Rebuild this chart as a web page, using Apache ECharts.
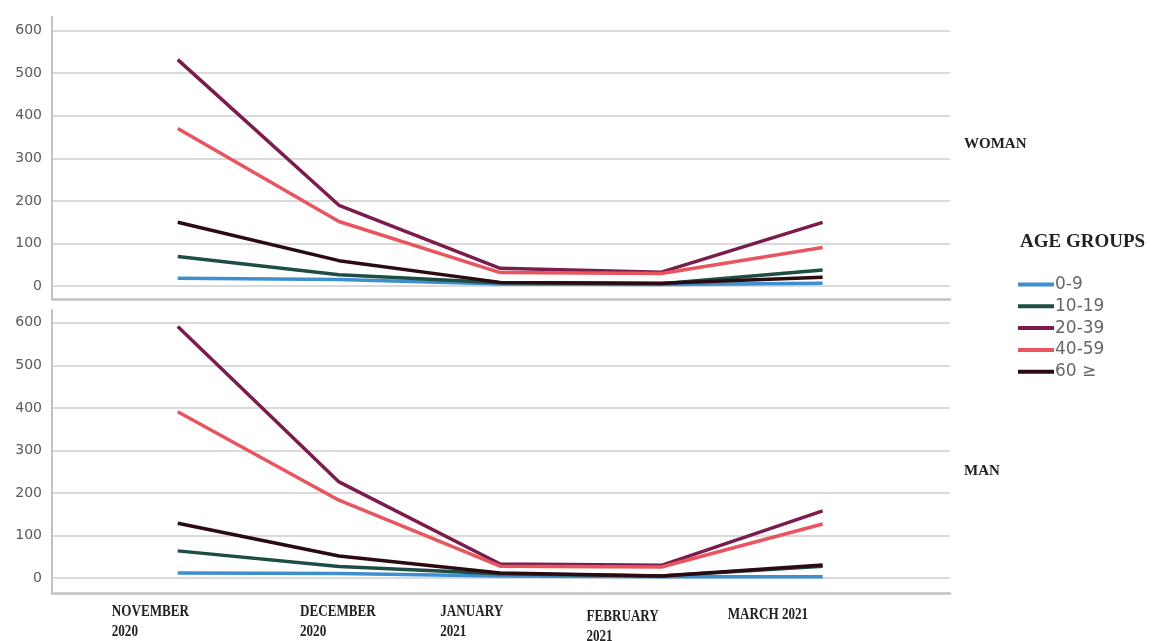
<!DOCTYPE html>
<html>
<head>
<meta charset="utf-8">
<script src="https://cdn.jsdelivr.net/npm/echarts@6/dist/echarts.min.js"></script>
<style>
  html, body { margin: 0; padding: 0; background: #fff; }
  #chart { width: 1157px; height: 641px; }
</style>
</head>
<body>
<div id="chart"></div>
<script>
// Months on the horizontal axis
const months = ['NOVEMBER\n2020', 'DECEMBER\n2020', 'JANUARY\n2021', 'FEBRUARY\n2021', 'MARCH 2021'];
const ageGroups = ['0-9', '10-19', '20-39', '40-59', '60 ≥'];
const yTicks = [0, 100, 200, 300, 400, 500, 600];

// Monthly cases, women
const woman0to9   = [19, 16, 5, 4, 7];
const woman10to19 = [70, 27, 8, 6, 38];
const woman20to39 = [532, 190, 42, 33, 150];
const woman40to59 = [370, 152, 32, 30, 91];
const woman60plus = [150, 60, 9, 7, 21];

// Monthly cases, men
const man0to9   = [12, 11, 5, 3, 3];
const man10to19 = [64, 27, 10, 5, 28];
const man20to39 = [591, 226, 33, 30, 158];
const man40to59 = [391, 183, 28, 26, 127];
const man60plus = [129, 52, 12, 5, 31];

const colors = ['#3f8fcf', '#1e4d44', '#7a1d4c', '#e8555f', '#2b0a12'];

const womanSeries = [woman0to9, woman10to19, woman20to39, woman40to59, woman60plus];
const manSeries = [man0to9, man10to19, man20to39, man40to59, man60plus];

const chart = echarts.init(document.getElementById('chart'), null, { renderer: 'canvas' });

const gridLine = '#dadada';
const axisGray = '#c2c2c2';
const tickFont = { fontFamily: 'DejaVu Sans', fontSize: 14, color: '#5a5a5a' };

function xAxisDef(gridIndex) {
  return {
    type: 'value', gridIndex: gridIndex, min: -0.78, max: 4.79,
    axisLine: { show: true, onZero: false, lineStyle: { color: axisGray, width: 2.5 } },
    axisTick: { show: false }, axisLabel: { show: false }, splitLine: { show: false }
  };
}
function yAxisDef(gridIndex, min, max) {
  return {
    type: 'value', gridIndex: gridIndex, min: min, max: max, splitNumber: 6,
    axisLine: { show: true, onZero: false, lineStyle: { color: axisGray, width: 2 } },
    axisTick: { show: false },
    axisLabel: Object.assign({ margin: 10, showMinLabel: false, showMaxLabel: false,
      formatter: v => (yTicks.indexOf(v) >= 0 ? String(v) : '') }, tickFont),
    splitLine: { show: true, showMinLine: false, showMaxLine: false, lineStyle: { color: gridLine, width: 2 } }
  };
}

function buildSeries(list, idx) {
  return list.map((vals, k) => ({
    name: ageGroups[k], type: 'line', xAxisIndex: idx, yAxisIndex: idx,
    data: vals.map((v, i) => [i, v]),
    showSymbol: false, symbol: 'none', smooth: false,
    lineStyle: { color: colors[k], width: 3.5 },
    itemStyle: { color: colors[k] },
    emphasis: { disabled: true }, silent: true, animation: false
  }));
}

const serifBold = { fontFamily: 'Liberation Serif', fontWeight: 'bold', color: '#222' };

chart.setOption({
  animation: false,
  backgroundColor: '#ffffff',
  grid: [
    { left: 52, right: 207, top: 17, height: 282 },
    { left: 52, right: 207, top: 310, height: 283 }
  ],
  xAxis: [xAxisDef(0), xAxisDef(1)],
  yAxis: [yAxisDef(0, -30, 632), yAxisDef(1, -35, 630)],
  title: [
    { text: 'WOMAN', left: 964, top: 137, padding: 0, textStyle: Object.assign({ fontSize: 15 }, serifBold) },
    { text: 'MAN', left: 964, top: 464, padding: 0, textStyle: Object.assign({ fontSize: 15 }, serifBold) },
    { text: 'AGE GROUPS', left: 1020, top: 233, padding: 0, textStyle: Object.assign({ fontSize: 19 }, serifBold) }
  ],
  legend: {
    data: ageGroups.map((g, k) => ({ name: g, icon: 'rect', itemStyle: { color: colors[k] } })),
    orient: 'vertical', left: 1018, top: 276, padding: 0,
    itemWidth: 36, itemHeight: 4, itemGap: 4.8,
    textStyle: { fontFamily: 'DejaVu Sans', fontSize: 17, color: '#666', padding: [0, 0, 0, -4] },
    selectedMode: false
  },
  series: buildSeries(womanSeries, 0).concat(buildSeries(manSeries, 1))
});

// Month labels under the lower panel, placed relative to each month's position on the axis
const labelShift = [-66, -39, -60, -75, -95];
const labelDrop = [0, 0, 0, 5, 3];
chart.setOption({
  graphic: months.map((m, i) => ({
    type: 'text',
    x: chart.convertToPixel({ xAxisIndex: 1 }, i) + labelShift[i],
    y: 602 + labelDrop[i],
    scaleX: 0.82,
    silent: true,
    style: Object.assign({ text: m, fontSize: 16, lineHeight: 20, fill: '#222' },
      { fontFamily: 'Liberation Serif', fontWeight: 'bold' })
  }))
});
</script>
</body>
</html>
